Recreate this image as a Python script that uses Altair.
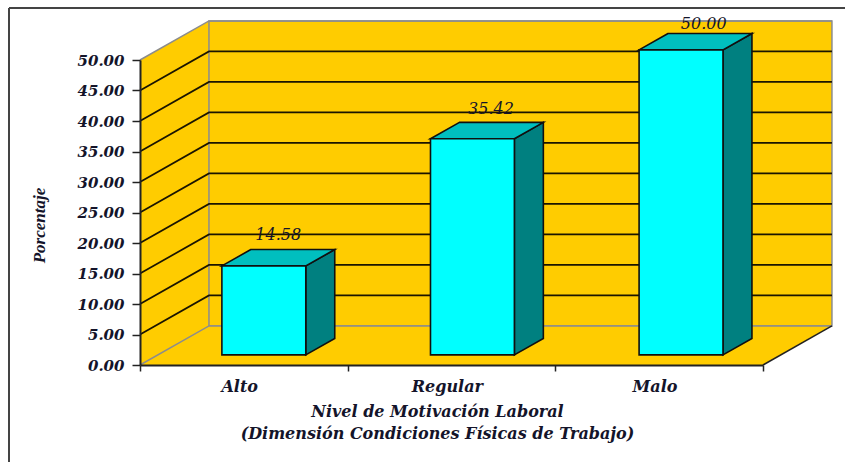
import altair as alt
import pandas as pd

# Values shown on the bars
categories = ["Alto", "Regular", "Malo"]
values = [14.58, 35.42, 50.00]
y_ticks = [0, 5, 10, 15, 20, 25, 30, 35, 40, 45, 50]
x_ticks = [0, 1, 2, 3]
axis_title_x = ["Nivel de Motivación Laboral", "(Dimensión Condiciones Físicas de Trabajo)"]
axis_title_y = "Porcentaje"

# Oblique projection: how far the full chart depth moves along x (categories) and y (percent)
DEPTH_X = 0.332
DEPTH_Y = 6.4
BAR_FRONT = 0.26
BAR_BACK = 0.68
BAR_WIDTH = 0.404
BAR_SHIFT = [0.01, 0.0145, 0.019]
LABEL_NUDGE_X = [-0.07, -0.05, -0.03]
LABEL_NUDGE_Y = [0.3, 0.0, -0.5]

WALL = "#FFCC00"
EDGE = "#8C8C8C"
INK = "#14142A"
SERIF = "DejaVu Serif"

x_axis = alt.Axis(
    values=x_ticks, title=axis_title_x, labels=False, grid=False, zindex=1,
    domainColor="#222222", domainWidth=2, tickColor="#222222", tickWidth=1.5, tickSize=6,
    titleFont=SERIF, titleFontStyle="italic", titleFontWeight="bold", titleFontSize=16,
    titleColor=INK, titleLineHeight=22, titleX=297, titleY=38, titleBaseline="top",
    titleAnchor="middle", titleAlign="center")
y_axis = alt.Axis(
    values=y_ticks, format=".2f", title=axis_title_y, grid=False, zindex=1,
    domainColor="#222222", domainWidth=2, tickColor="#222222", tickWidth=1.5, tickSize=8,
    labelFont=SERIF, labelFontStyle="italic", labelFontWeight="bold", labelFontSize=15,
    labelColor=INK, labelPadding=8,
    titleFont="Liberation Serif", titleFontStyle="italic", titleFontWeight="bold", titleFontSize=17,
    titleColor=INK, titleX=-92, titleY=165, titleAngle=270, titleAlign="center")

X = alt.X("x:Q", scale=alt.Scale(domain=[0, 3], nice=False, zero=False), axis=x_axis)
Y = alt.Y("y:Q", scale=alt.Scale(domain=[0, 50], nice=False, zero=False), axis=y_axis)


def project(u, v, depth):
    return u + depth * DEPTH_X, v + depth * DEPTH_Y


# Walls and floor of the box
left_wall = alt.Chart(pd.DataFrame([
    {"x": 0, "y": 0, "y2": 50},
    {"x": DEPTH_X, "y": DEPTH_Y, "y2": 50 + DEPTH_Y},
])).mark_area(color=WALL, orient="vertical").encode(x=X, y=Y, y2="y2:Q")

back_wall = alt.Chart(pd.DataFrame([{
    "x": DEPTH_X, "x2": 3 + DEPTH_X, "y": DEPTH_Y, "y2": 50 + DEPTH_Y,
}])).mark_rect(color=WALL, stroke=EDGE, strokeWidth=1.5).encode(x=X, x2="x2:Q", y=Y, y2="y2:Q")

floor = alt.Chart(pd.DataFrame([
    {"y": 0, "x": 0, "x2": 3},
    {"y": DEPTH_Y, "x": DEPTH_X, "x2": 3 + DEPTH_X},
])).mark_area(color=WALL, orient="horizontal").encode(x=X, x2="x2:Q", y=Y)

# Grid lines run along the left wall and across the back wall
grid_rows = []
for level in y_ticks:
    for u, d in [(0, 0), (0, 1), (3, 1)]:
        px, py = project(u, level, d)
        grid_rows.append({"level": level, "x": px, "y": py})
grid_df = pd.DataFrame(grid_rows)

grid_inner = alt.Chart(grid_df[~grid_df.level.isin([0, 50])]).mark_line(
    color="#1A1400", strokeWidth=1.7).encode(x=X, y=Y, detail="level:N")
grid_outer = alt.Chart(grid_df[grid_df.level.isin([0, 50])]).mark_line(
    color=EDGE, strokeWidth=1.5).encode(x=X, y=Y, detail="level:N")

floor_edge = alt.Chart(pd.DataFrame([
    {"x": 3, "y": 0},
    {"x": 3 + DEPTH_X, "y": DEPTH_Y},
])).mark_line(color="#222222", strokeWidth=1.5).encode(x=X, y=Y)

# Bar faces, all derived from the category position and the value
front_rows, side_rows, top_rows, label_rows, cat_rows = [], [], [], [], []
for i, (name, val) in enumerate(zip(categories, values)):
    left = i + 0.5 - BAR_WIDTH / 2 + BAR_SHIFT[i]
    right = left + BAR_WIDTH
    fx, fy0 = project(left, 0, BAR_FRONT)
    fx2, fy1 = project(right, val, BAR_FRONT)
    bx, by0 = project(right, 0, BAR_BACK)
    _, by1 = project(right, val, BAR_BACK)
    blx, _ = project(left, val, BAR_BACK)
    front_rows.append({"name": name, "x": fx, "x2": fx2, "y": fy0, "y2": fy1})
    side_rows += [
        {"name": name, "x": fx2, "y": fy0, "y2": fy1},
        {"name": name, "x": bx, "y": by0, "y2": by1},
    ]
    top_rows += [
        {"name": name, "y": fy1, "x": fx, "x2": fx2},
        {"name": name, "y": by1, "x": blx, "x2": bx},
    ]
    label_rows.append({
        "name": name,
        "x": (blx + bx) / 2 + LABEL_NUDGE_X[i],
        "y": by1 + LABEL_NUDGE_Y[i],
        "label": val,
    })
    cat_rows.append({"name": name, "x": i + 0.5 - 0.02, "y": 0})

front = alt.Chart(pd.DataFrame(front_rows)).mark_rect(
    color="#00FFFF", stroke="#101010", strokeWidth=1.6).encode(x=X, x2="x2:Q", y=Y, y2="y2:Q")
side = alt.Chart(pd.DataFrame(side_rows)).mark_area(
    color="#008080", stroke="#101010", strokeWidth=1.6, orient="vertical").encode(
    x=X, y=Y, y2="y2:Q", detail="name:N")
top = alt.Chart(pd.DataFrame(top_rows)).mark_area(
    color="#00BFBF", stroke="#101010", strokeWidth=1.6, orient="horizontal").encode(
    x=X, x2="x2:Q", y=Y, detail="name:N")

value_labels = alt.Chart(pd.DataFrame(label_rows)).mark_text(
    font=SERIF, fontStyle="italic", fontSize=16, color=INK, baseline="alphabetic", dy=-8).encode(
    x=X, y=Y, text=alt.Text("label:Q", format=".2f"))

category_labels = alt.Chart(pd.DataFrame(cat_rows)).mark_text(
    font=SERIF, fontStyle="italic", fontWeight="bold", fontSize=16, color=INK,
    baseline="alphabetic", dy=27).encode(x=X, y=Y, text="name:N")

# Page frame: top and left rules only
frame_top = alt.Chart(pd.DataFrame({"a": [0]})).mark_rule(color="#444444", strokeWidth=2).encode(
    x=alt.value(-131), x2=alt.value(705), y=alt.value(-52))
frame_left = alt.Chart(pd.DataFrame({"a": [0]})).mark_rule(color="#444444", strokeWidth=2).encode(
    x=alt.value(-131), y=alt.value(-52), y2=alt.value(402))

chart = alt.layer(
    left_wall, back_wall, floor, grid_inner, grid_outer, floor_edge,
    side, top, front, value_labels, category_labels, frame_top, frame_left,
).properties(
    width=623,
    height=305,
    padding={"left": 140, "top": 60, "right": 82, "bottom": 97},
    autosize=alt.AutoSizeParams(type="none"),
    background="white",
).configure_view(stroke=None)

chart.save("out.html", embed_options={"renderer": "svg", "actions": False})
